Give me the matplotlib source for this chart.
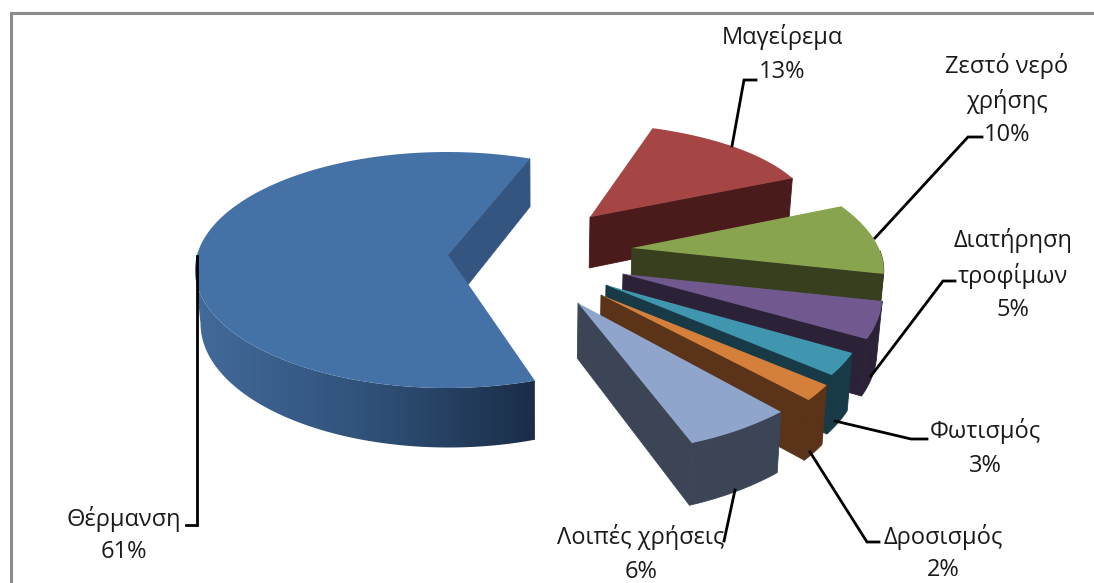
import numpy as np
import matplotlib
matplotlib.use('Agg')
import matplotlib.pyplot as plt
from matplotlib.patches import Polygon

plt.rcParams['font.family'] = ['Open Sans', 'DejaVu Sans']

names = ['Θέρμανση', 'Μαγείρεμα', 'Ζεστό νερό\nχρήσης', 'Διατήρηση\nτροφίμων',
         'Φωτισμός', 'Δροσισμός', 'Λοιπές χρήσεις']
shares = [61, 13, 10, 5, 3, 2, 6]
start_angle = 159.6

top_colors = ['#4471A6', '#A54644', '#88A44E', '#71598F', '#4096AF', '#D5803A', '#8FA5CC']
side_colors = ['#34557F', '#4B1B1B', '#373F1E', '#2B2238', '#173A46', '#5A3318', '#3B4556']

# fake 3d: every slice has its own ellipse, excel's perspective is not a clean one
centres = [(447, 270), (574, 216), (635, 251), (634, 274), (620, 281), (615, 276), (595, 293)]
apexes = [(448, 255), (590, 217), (632, 248), (623, 274), (606, 285), (601, 295), (578, 303)]
radii_x = [252, 239, 245, 245, 245, 245, 278]
radii_y = [118, 93, 110, 130, 144, 167, 160]
skews = [0, 0, -43, -41, -40, -40, 0]

label_pos = [(124, 535), (782, 54), (1007, 100), (1013, 275), (985, 448), (943, 553), (641, 554)]
leaders = [
    [(197, 256), (197, 525), (186, 525)],
    [(732, 146), (744, 80), (756, 80)],
    [(875, 238), (968, 137), (982, 137)],
    [(871, 376), (943, 281), (955, 281)],
    [(835, 421), (911, 439), (927, 439)],
    [(810, 452), (867, 542), (879, 542)],
    [(735, 490), (724, 541)],
]


def arc_points(i, a0, a1):
    t = np.radians(np.linspace(a0, a1, 120))
    cx, cy = centres[i]
    x = cx + radii_x[i] * np.sin(t) + skews[i] * np.cos(t)
    y = cy - radii_y[i] * np.cos(t)
    return np.column_stack([x, y])


def drop(pts):
    # bottom edge of the slice, slightly pulled to the middle by perspective
    pts = np.asarray(pts, dtype=float)
    x = pts[:, 0] - 0.016 * (pts[:, 0] - 540)
    y = pts[:, 1] + 48 + 0.05 * (pts[:, 1] - 158)
    return np.column_stack([x, y])


def blue_gradient(ax, poly):
    colors = np.array([[0x42, 0x6A, 0x9B], [0x30, 0x52, 0x7A], [0x1A, 0x2D, 0x47]]) / 255
    g = np.linspace(0, 1, 300)
    rgb = np.column_stack([np.interp(g, [0, 0.5, 1], colors[:, k]) for k in range(3)])
    im = ax.imshow(rgb[None, :, :], extent=(195, 537, 450, 200), aspect='auto', zorder=2)
    im.set_clip_path(poly)


def main():
    fig = plt.figure(figsize=(10.94, 5.83), dpi=100)
    ax = fig.add_axes([0, 0, 1, 1])
    ax.axis('off')

    # only the top and left sides of the frame are in the picture
    ax.plot([10.5, 10.5, 1094], [583, 12.5, 12.5], color='#8C8C8C', lw=2.2,
            solid_joinstyle='miter', zorder=1)

    ends = start_angle + np.cumsum([0] + shares) * 3.6
    z = 2
    for i in range(len(shares)):
        a0, a1 = ends[i], ends[i + 1]
        if a1 > 360 and i > 0:
            a0, a1 = a0 - 360, a1 - 360
        arc = arc_points(i, a0, a1)
        apex = np.array([apexes[i]], dtype=float)

        # radial wall on the slice's closing edge
        wall = np.vstack([apex, arc[-1:], drop(arc[-1:]), drop(apex)])
        ax.add_patch(Polygon(wall, fc=side_colors[i], ec=side_colors[i], lw=0.6, zorder=z))

        # outer wall, only the part facing us
        lo, hi = max(a0, 90), min(a1, 270)
        if hi > lo:
            front = arc_points(i, lo, hi)
            outer = np.vstack([front, drop(front)[::-1]])
            if i == 0:
                patch = Polygon(outer, fc='none', ec='none', zorder=z)
                ax.add_patch(patch)
                blue_gradient(ax, patch)
            else:
                ax.add_patch(Polygon(outer, fc=side_colors[i], ec=side_colors[i], lw=0.6, zorder=z))

        face = np.vstack([apex, arc])
        ax.add_patch(Polygon(face, fc=top_colors[i], ec='none', zorder=z + 0.5))
        z += 1

    for pts, name, share, pos in zip(leaders, names, shares, label_pos):
        xs, ys = zip(*pts)
        ax.plot(xs, ys, color='black', lw=2.0, solid_joinstyle='miter', zorder=20)
        ax.text(pos[0], pos[1], f'{name}\n{share}%', ha='center', va='center',
                fontsize=17, color='#1A1A1A', linespacing=1.5, zorder=21)

    ax.set_xlim(0, 1094)
    ax.set_ylim(583, 0)
    fig.savefig('out.png', dpi=100, facecolor='white')


if __name__ == '__main__':
    main()
